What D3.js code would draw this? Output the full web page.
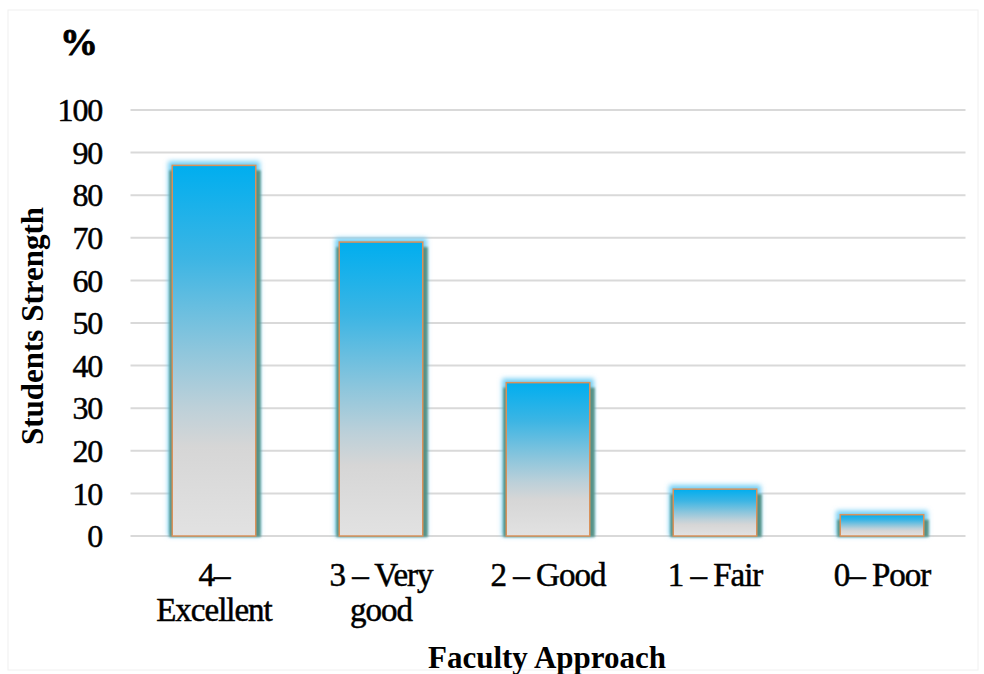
<!DOCTYPE html>
<html><head><meta charset="utf-8">
<script src="https://cdn.jsdelivr.net/npm/d3@7"></script>
<style>body{margin:0;background:#fff}svg{display:block}</style>
</head><body>
<script>
const categories = [["4–","Excellent"],["3 – Very","good"],["2 – Good"],["1 – Fair"],["0– Poor"]];
const values = [87, 69, 36, 11, 5];
const yTicks = [0,10,20,30,40,50,60,70,80,90,100];
const yTitle = "Students Strength";
const xTitle = "Faculty Approach";
const unitLabel = "%";

const W = 984, H = 674;
const FONT = "'Liberation Serif','Times New Roman',serif";
const m = {left:130.5, right:984-965.5, top:110, bottom:674-536};
const svg = d3.select("body").append("svg").attr("width",W).attr("height",H);
svg.append("rect").attr("x",8).attr("y",10).attr("width",W-14).attr("height",H-14)
  .attr("fill","#fff").attr("stroke","#f0f0f0").attr("stroke-width",1);

const defs = svg.append("defs");
const grad = defs.append("linearGradient").attr("id","bg").attr("x1",0).attr("y1",0).attr("x2",0).attr("y2",1);
[[0,"#00aeef"],[0.25,"#3cb5e4"],[0.5,"#8ec6dc"],[0.65,"#bcd0d9"],[0.76,"#d6d6d6"],[1,"#e2e2e2"]]
  .forEach(([o,c])=>grad.append("stop").attr("offset",o).attr("stop-color",c));
const glow = defs.append("filter").attr("id","glow").attr("x","-30%").attr("y","-30%").attr("width","160%").attr("height","160%");
glow.append("feGaussianBlur").attr("stdDeviation",2.5);
const sh = defs.append("filter").attr("id","sh").attr("x","-30%").attr("y","-30%").attr("width","160%").attr("height","160%");
sh.append("feGaussianBlur").attr("stdDeviation",1);

const x = d3.scaleBand().domain(d3.range(categories.length)).range([m.left, W-m.right]).paddingInner(0.5).paddingOuter(0.25);
const y = d3.scaleLinear().domain([0,100]).range([H-m.bottom, m.top]);

// gridlines
svg.append("g").selectAll("line").data(yTicks).join("line")
  .attr("x1",m.left).attr("x2",W-m.right)
  .attr("y1",d=>y(d)).attr("y2",d=>y(d))
  .attr("stroke","#d9d9d9").attr("stroke-width",2);

// y tick labels
svg.append("g").selectAll("text").data(yTicks).join("text")
  .attr("x",102).attr("y",d=>y(d)).attr("dy","0.35em")
  .attr("text-anchor","end")
  .attr("font-family",FONT)
  .attr("font-size",32).attr("letter-spacing",-1.2).attr("fill","#000")
  .attr("stroke","#000").attr("stroke-width",0.5)
  .text(d=>d);

const bars = svg.append("g").selectAll("g").data(values).join("g");
const bw = x.bandwidth();
// blue glow
bars.append("rect")
  .attr("x",(d,i)=>x(i)-4).attr("y",d=>y(d)-4)
  .attr("width",bw+8).attr("height",d=>y(0)-y(d)+4)
  .attr("fill","#6fcdf4").attr("filter","url(#glow)");
// dark shadow
bars.append("rect")
  .attr("x",(d,i)=>x(i)-3).attr("y",d=>y(d)+5)
  .attr("width",bw+8).attr("height",d=>y(0)-y(d)-4)
  .attr("fill","#4f8a7c").attr("opacity",0.9).attr("filter","url(#sh)");
// bar
bars.append("rect")
  .attr("x",(d,i)=>x(i)).attr("y",d=>y(d))
  .attr("width",bw).attr("height",d=>y(0)-y(d))
  .attr("fill","url(#bg)").attr("stroke","#d9915a").attr("stroke-width",1.5);

// category labels
const cl = svg.append("g").selectAll("text").data(categories).join("text")
  .attr("x",(d,i)=>x(i)+bw/2)
  .attr("text-anchor","middle")
  .attr("font-family",FONT)
  .attr("font-size",33).attr("letter-spacing",-1).attr("fill","#000")
  .attr("stroke","#000").attr("stroke-width",0.5);
cl.each(function(d){
  const t = d3.select(this);
  d.forEach((s,j)=>t.append("tspan").attr("x",t.attr("x")).attr("y",586+j*35).text(s));
});

// axis titles
svg.append("text").attr("x",547).attr("y",668).attr("text-anchor","middle")
  .attr("font-family",FONT)
  .attr("font-size",31).attr("font-weight","bold").text(xTitle);
svg.append("text").attr("transform","translate(43,326) rotate(-90)").attr("text-anchor","middle")
  .attr("font-family",FONT)
  .attr("font-size",31).attr("font-weight","bold").text(yTitle);
svg.append("text").attr("x",78).attr("y",55).attr("text-anchor","middle")
  .attr("font-family",FONT)
  .attr("font-size",38).attr("font-weight","bold").attr("letter-spacing",-2)
  .attr("stroke","#000").attr("stroke-width",0.8).text(unitLabel);
</script>
</body></html>
